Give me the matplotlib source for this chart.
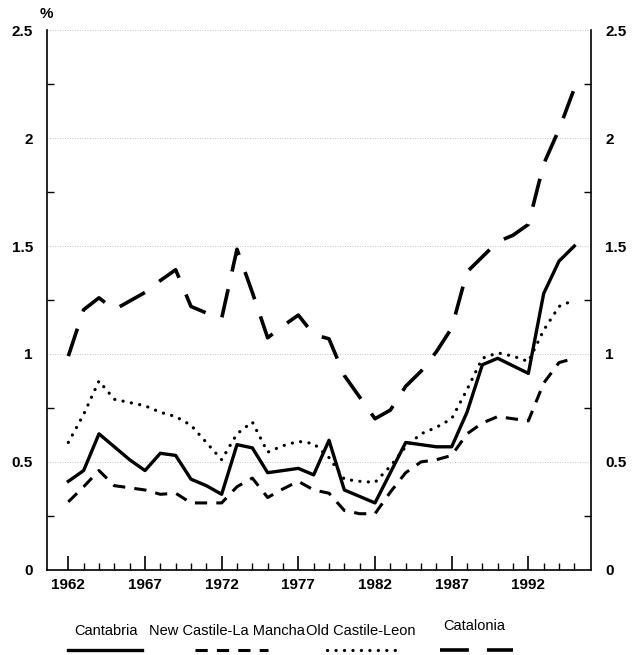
import numpy as np
import matplotlib.pyplot as plt
from matplotlib.lines import Line2D

plt.rcParams['font.family'] = ['Liberation Sans', 'DejaVu Sans']

years = list(range(1962, 1996))

cantabria = [0.41, 0.46, 0.63, 0.57, 0.51, 0.46, 0.54, 0.53, 0.42, 0.39,
             0.35, 0.58, 0.565, 0.45, 0.46, 0.47, 0.44, 0.60, 0.37, 0.34,
             0.31, 0.45, 0.59, 0.58, 0.57, 0.57, 0.73, 0.95, 0.98, 0.945,
             0.91, 1.28, 1.43, 1.50]
new_castile = [0.315, 0.385, 0.46, 0.39, 0.38, 0.37, 0.35, 0.355, 0.31, 0.31,
               0.31, 0.385, 0.425, 0.335, 0.375, 0.41, 0.37, 0.355, 0.275, 0.26,
               0.26, 0.36, 0.45, 0.50, 0.51, 0.53, 0.63, 0.68, 0.71, 0.70,
               0.69, 0.865, 0.96, 0.98]
old_castile = [0.59, 0.72, 0.875, 0.79, 0.775, 0.76, 0.73, 0.71, 0.67, 0.59,
               0.51, 0.63, 0.685, 0.545, 0.575, 0.595, 0.585, 0.52, 0.42, 0.41,
               0.405, 0.48, 0.57, 0.63, 0.66, 0.70, 0.835, 0.98, 1.005, 0.99,
               0.965, 1.11, 1.22, 1.25]
catalonia = [0.99, 1.205, 1.26, 1.205, 1.245, 1.285, 1.34, 1.39, 1.22, 1.19,
             1.165, 1.485, 1.285, 1.075, 1.13, 1.18, 1.09, 1.07, 0.90, 0.80,
             0.70, 0.74, 0.85, 0.92, 1.01, 1.12, 1.38, 1.45, 1.52, 1.55,
             1.60, 1.88, 2.04, 2.23]

names = ['Cantabria', 'New Castile-La Mancha', 'Old Castile-Leon', 'Catalonia']
styles = [dict(ls='-', lw=2.4),
          dict(ls=(0, (4, 3)), lw=2.2),
          dict(ls=(0, (0.05, 2.6)), lw=2.3, dash_capstyle='round'),
          dict(ls=(0, (8, 5)), lw=2.6)]

fig = plt.figure(figsize=(6.33, 6.55), dpi=100)
ax = fig.add_axes([0.074, 0.13, 0.86, 0.824])

for vals, st in zip([cantabria, new_castile, old_castile, catalonia], styles):
    ax.plot(years, vals, color='black', **st)

ax.set_xlim(1960.6, 1996.1)
ax.set_ylim(0, 2.5)

ax.spines['top'].set_visible(False)
for s in ['left', 'right', 'bottom']:
    ax.spines[s].set_linewidth(1.2)

ax.set_xticks(range(1962, 1993, 5))
ax.set_xticks(years, minor=True)
ax.set_yticks(np.arange(0, 2.51, 0.5))
ax.set_yticks(np.arange(0.25, 2.5, 0.5), minor=True)
ax.set_yticklabels(['0', '0.5', '1', '1.5', '2', '2.5'])
ax.tick_params(axis='x', which='major', direction='in', length=10, width=1.2,
               labelsize=11, pad=6)
ax.tick_params(axis='x', which='minor', direction='in', length=5, width=1.0)
ax.tick_params(axis='y', which='major', length=0, labelsize=11, pad=10,
               left=True, right=True, labelleft=True, labelright=True)
ax.tick_params(axis='y', which='minor', direction='in', length=5, width=1.0,
               left=True, right=True)
for lbl in ax.get_xticklabels() + ax.get_yticklabels():
    lbl.set_fontweight('bold')

ax.grid(axis='y', which='major', color='#b0b0b0', ls=(0, (1, 2)), lw=0.6)

fig.text(0.074, 0.978, '%', ha='center', va='center', fontsize=11, fontweight='bold')

# legend drawn below the axes
text_x = [0.168, 0.358, 0.57, 0.75]
text_y = [0.036, 0.036, 0.036, 0.045]
line_x = [(0.107, 0.224), (0.308, 0.423), (0.517, 0.629), (0.695, 0.81)]
for name, st, tx, ty, (x0, x1) in zip(names, styles, text_x, text_y, line_x):
    fig.text(tx, ty, name, ha='center', va='center', fontsize=10.5)
    fig.add_artist(Line2D([x0, x1], [0.008, 0.008], color='black',
                          transform=fig.transFigure, **st))

fig.savefig('out.png', dpi=100)
